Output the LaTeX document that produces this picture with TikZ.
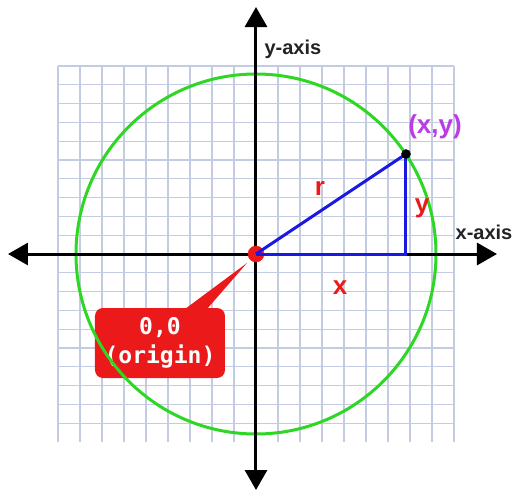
\documentclass[tikz,border=0pt]{standalone}
\usepackage{fontspec}
\setmainfont{Liberation Sans}
\setmonofont{DejaVu Sans Mono}
\usetikzlibrary{arrows.meta}
\usepackage{xcolor}
\definecolor{gridblue}{RGB}{195,204,226}
\definecolor{circlegreen}{RGB}{45,215,35}
\definecolor{labelred}{RGB}{235,25,25}
\definecolor{pointpurple}{RGB}{185,60,230}
\definecolor{lineblue}{RGB}{25,25,225}
\definecolor{axisgray}{RGB}{35,35,35}

\begin{document}
\begin{tikzpicture}[x=1pt, y=1pt,
  axisline/.style={line width=3pt, {Triangle[length=20pt,width=22pt]}-{Triangle[length=20pt,width=22pt]}},
  side/.style={lineblue, line width=3pt},
  axislabel/.style={text=axisgray, font=\fontsize{20}{22}\selectfont\bfseries},
  sidelabel/.style={text=labelred, font=\fontsize{26}{28}\selectfont\bfseries}]
\useasboundingbox (-256,-237) rectangle (259,254);
% grid
\draw[gridblue, line width=1.1pt, xstep=22, ystep=18.8] (-198,-188) grid (198,188);
% origin callout
\coordinate (O) at (0,0);
\coordinate (P) at (150,100);
\node[fill=labelred, rounded corners=8pt, minimum width=130pt, minimum height=70pt,
  align=center, text=white, font=\fontsize{23}{29}\selectfont\ttfamily\bfseries]
  (box) at (-96,-89) {0,0\\(origin)};
\fill[labelred] (-9,-9) -- (-71,-55) -- (-49,-55) -- cycle;
% circle of radius r
\draw[circlegreen, line width=3pt] (O) circle (180);
% axes
\draw[axisline] (-248,0) -- (241,0);
\draw[axisline] (0,-236) -- (0,247);
\node[axislabel, anchor=west] (ylab) at (5,205) {y-axis};
\node[axislabel] (xlab) at (228,22) {x-axis};
% right triangle
\filldraw[labelred] (O) circle (8);
\draw[side] (O) -- (P |- O) -- (P);
\draw[side] (O) -- (P);
\filldraw[black] (P) circle (4.5);
\node[text=pointpurple, font=\fontsize{26}{28}\selectfont\bfseries] (plab) at (179,127) {(x,y)};
\node[sidelabel] (rlab) at (64,66) {r};
\node[sidelabel] (ysid) at (166,46) {y};
\node[sidelabel] (xsid) at (84,-34) {x};
\end{tikzpicture}
\end{document}
